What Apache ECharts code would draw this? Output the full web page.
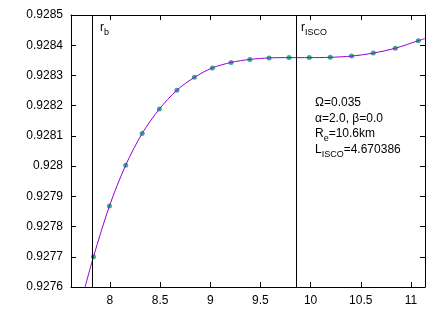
<!DOCTYPE html>
<html>
<head>
<meta charset="utf-8">
<script src="https://cdn.jsdelivr.net/npm/echarts@6/dist/echarts.min.js"></script>
<style>
  html, body { margin: 0; padding: 0; background: #fff; }
  #main { width: 448px; height: 313px; }
</style>
</head>
<body>
<div id="main"></div>
<script>
// data
var radius = [7.836, 7.995, 8.157, 8.321, 8.493, 8.667, 8.842, 9.021, 9.207, 9.394,
              9.586, 9.785, 9.987, 10.196, 10.408, 10.624, 10.844, 11.073];
var energy = [0.927700, 0.927868, 0.928003, 0.928108, 0.928189, 0.928251, 0.928294, 0.928325, 0.928343, 0.928353,
              0.928358, 0.928359, 0.928359, 0.928360, 0.928364, 0.928374, 0.928390, 0.928415];
// fitted curve runs a bit past the dots on both ends
var curveStart = [7.74, 0.927585];
var curveEnd = [11.14, 0.928422];
var rLines = [7.823, 9.861];   // r_b, r_ISCO
var xRange = [7.612, 11.14];
var yRange = [0.9276, 0.9285];

var font = 'Liberation Sans';
var chart = echarts.init(document.getElementById('main'));

var dots = radius.map(function (r, i) { return [r, energy[i]]; });
var curve = [curveStart].concat(dots, [curveEnd]);

function axisX(pos, showLabel) {
  return {
    type: 'value', position: pos, min: xRange[0], max: xRange[1], splitNumber: 7,
    axisLine: { show: true, onZero: false, lineStyle: { color: '#000', width: 1 } },
    axisTick: { show: true, inside: true, length: 5, lineStyle: { color: '#000' } },
    axisLabel: { show: showLabel, showMinLabel: false, showMaxLabel: false,
                 color: '#000', fontFamily: font, fontSize: 12, margin: 8 },
    splitLine: { show: false }
  };
}
function axisY(pos, showLabel) {
  return {
    type: 'value', position: pos, min: yRange[0], max: yRange[1], interval: 0.0001,
    axisLine: { show: true, onZero: false, lineStyle: { color: '#000', width: 1 } },
    axisTick: { show: true, inside: true, length: 5, lineStyle: { color: '#000' } },
    axisLabel: { show: showLabel, color: '#000', fontFamily: font, fontSize: 12, margin: 8,
                 formatter: function (v) { return String(+v.toFixed(4)); } },
    splitLine: { show: false }
  };
}

var sub = { fontSize: 9, lineHeight: 7, verticalAlign: 'bottom', fontFamily: font, fill: '#000' };
var txt = { fontSize: 12, lineHeight: 15.5, verticalAlign: 'top', fontFamily: font, fill: '#000' };

option = {
  animation: false,
  grid: { left: 71, right: 23, top: 15, bottom: 26 },
  xAxis: [axisX('bottom', true), axisX('top', false)],
  yAxis: [axisY('left', true), axisY('right', false)],
  series: [
    {
      type: 'line', data: curve, smooth: 0.3, showSymbol: false, clip: true,
      lineStyle: { color: '#9400d3', width: 1 },
      markLine: {
        silent: true, symbol: 'none', label: { show: false },
        lineStyle: { color: '#000', width: 1, type: 'solid' },
        data: rLines.map(function (r) { return { xAxis: r }; })
      }
    },
    {
      type: 'scatter', data: dots, symbol: 'circle', symbolSize: 5,
      itemStyle: { color: '#009e73' }
    }
  ],
  graphic: [
    { type: 'text', left: 100, top: 22,
      style: { text: '{a|r}{s|b}', rich: { a: txt, s: sub } } },
    { type: 'text', left: 301, top: 22,
      style: { text: '{a|r}{s|ISCO}', rich: { a: txt, s: sub } } },
    { type: 'text', left: 315, top: 97,
      style: {
        text: '{a|Ω=0.035}\n{a|α=2.0, β=0.0}\n{a|R}{s|e}{a|=10.6km}\n{a|L}{s|ISCO}{a|=4.670386}',
        rich: { a: txt, s: sub }
      } }
  ]
};
chart.setOption(option);
</script>
</body>
</html>
